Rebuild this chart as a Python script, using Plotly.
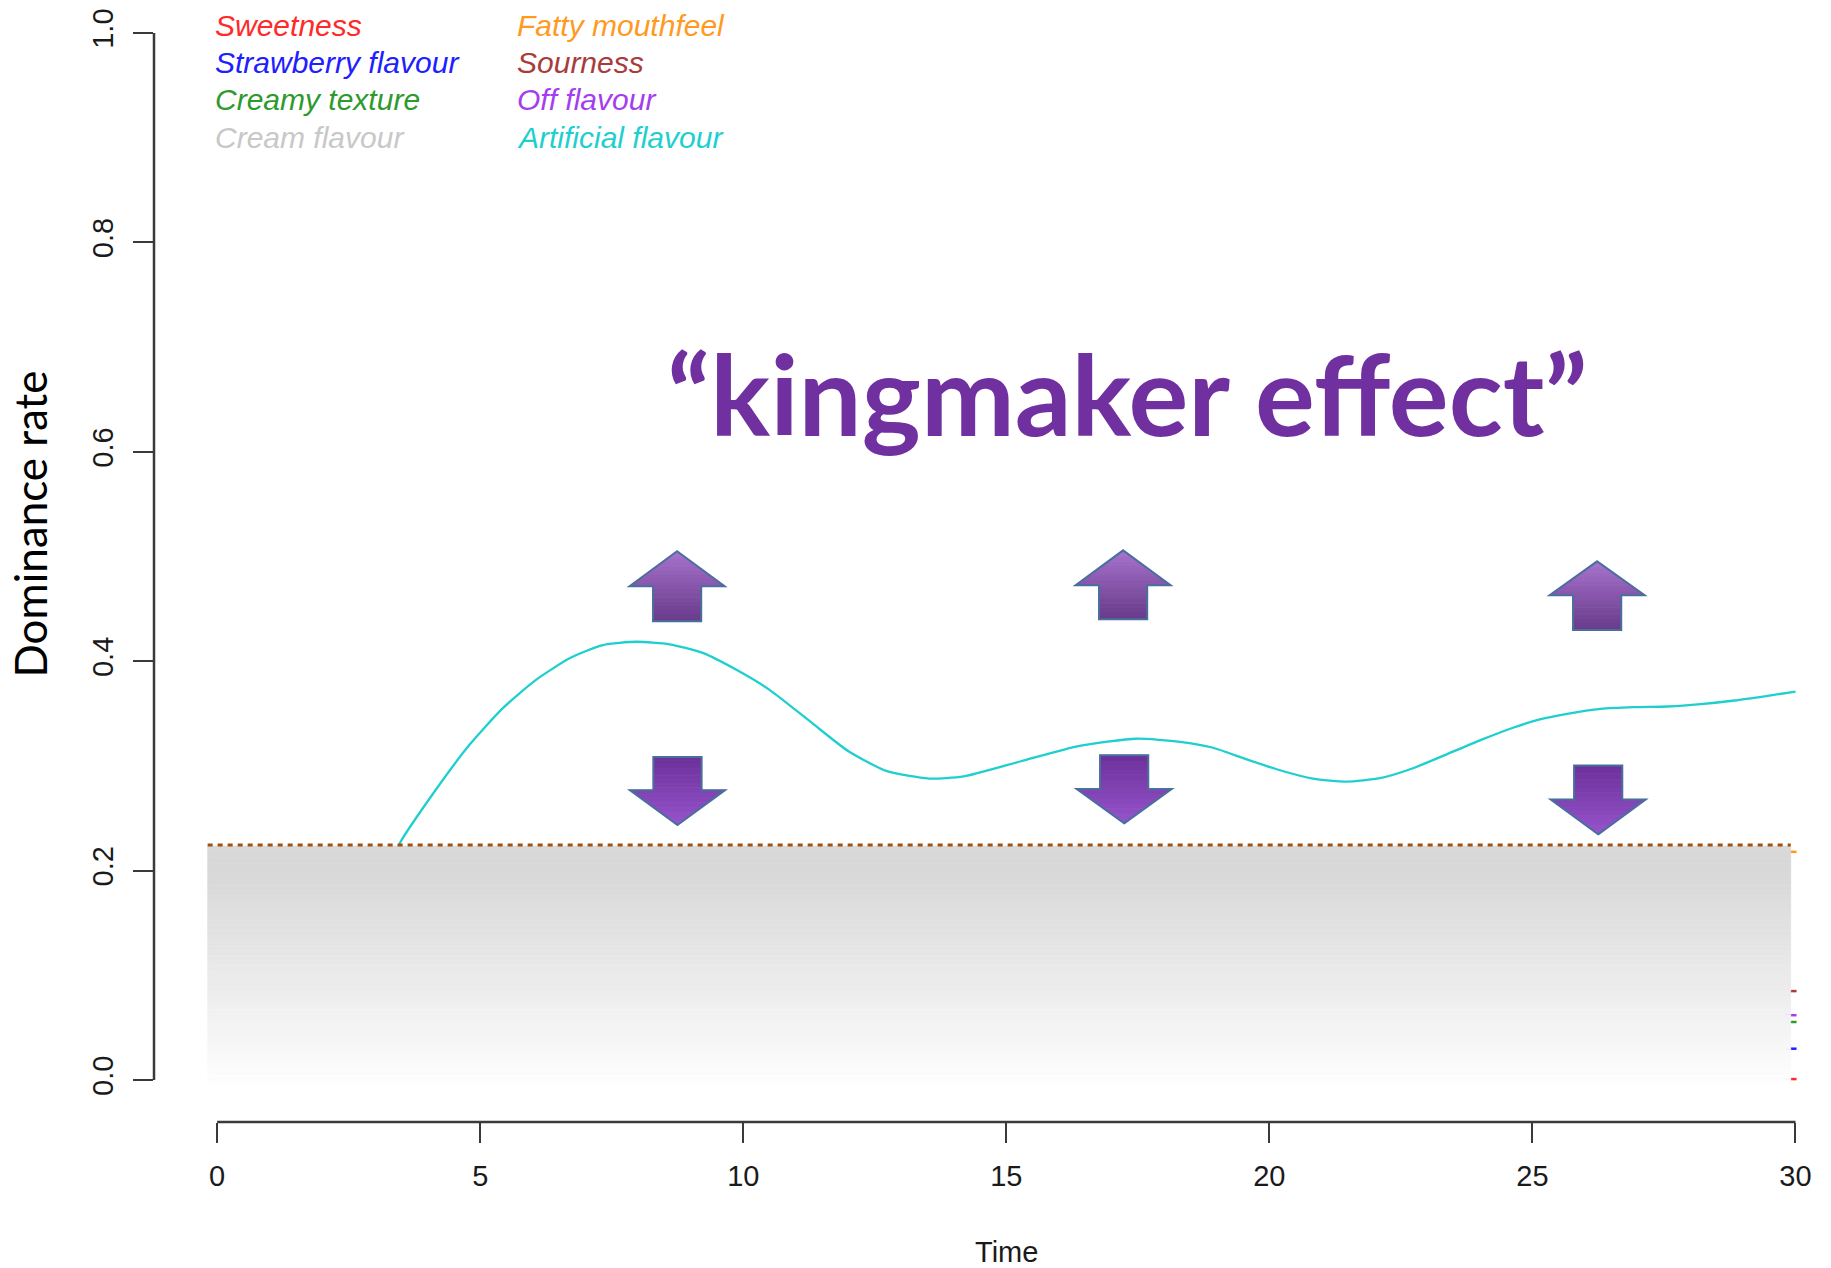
import numpy as np
import plotly.graph_objects as go

# ---------------- data ----------------
series_names = ["Sweetness", "Strawberry flavour", "Creamy texture", "Cream flavour",
                "Fatty mouthfeel", "Sourness", "Off flavour", "Artificial flavour"]
series_colors = ["#FF2A2A", "#2020FF", "#2E9A2E", "#C8C8C8",
                 "#FF9A1F", "#A83C3C", "#A63CF0", "#1FCFCF"]

# Artificial flavour dominance curve (visible part above the significance band)
time_artificial = [3.30, 3.46, 4.16, 4.80, 5.43, 6.06, 6.70, 7.33, 7.97, 8.60, 9.24, 9.87,
                   10.50, 11.27, 12.00, 12.73, 13.53, 14.19, 15.28, 16.37, 17.47, 18.30,
                   18.93, 19.57, 20.20, 20.83, 21.47, 22.10, 22.73, 23.37, 24.00, 24.63,
                   25.14, 25.66, 26.30, 26.93, 27.57, 28.20, 28.84, 29.47, 30.00]
rate_artificial = [0.205, 0.2252, 0.2775, 0.3204, 0.3552, 0.3822, 0.4028, 0.4155, 0.4186,
                   0.4162, 0.4077, 0.3918, 0.3727, 0.3425, 0.314, 0.295, 0.288, 0.290,
                   0.3045, 0.319, 0.326, 0.3231, 0.3174, 0.3063, 0.2959, 0.2879, 0.2851,
                   0.2883, 0.2978, 0.3111, 0.3244, 0.3365, 0.3444, 0.3498, 0.3546, 0.3562,
                   0.3568, 0.359, 0.3625, 0.367, 0.371]

# Other attributes: only their final values peek out at the right edge
tail_time = [29.8, 30.02]
tail_rate = {"Sweetness": 0.001, "Strawberry flavour": 0.030, "Creamy texture": 0.0555,
             "Fatty mouthfeel": 0.218, "Sourness": 0.085, "Off flavour": 0.062}

significance_level = 0.2245

x_ticks = [0, 5, 10, 15, 20, 25, 30]
x_tick_labels = ["0", "5", "10", "15", "20", "25", "30"]
y_ticks = [0.0, 0.2, 0.4, 0.6, 0.8, 1.0]
y_tick_labels = ["0.0", "0.2", "0.4", "0.6", "0.8", "1.0"]

# ---------------- layout geometry ----------------
# the page body has an 8px margin, so the figure is offset by 8px on screen
OFF = 8
W, H = 1831 - OFF, 1268 - OFF
ML, MR, MT = 154 - OFF, 0, 0
MB = H - (1122 - OFF)
X_RANGE = [-1.2, 30.675]
Y_RANGE = [-0.04, (1080 - OFF) / 1050]


def pxx(px):  # screen pixel -> paper x
    return (px - OFF - ML) / (W - ML - MR)


def pxy(py):  # screen pixel -> paper y
    return 1 - (py - OFF - MT) / (H - MT - MB)


fig = go.Figure()

# tails of the other curves
for name, col in zip(series_names, series_colors):
    if name in tail_rate:
        fig.add_trace(go.Scatter(x=tail_time, y=[tail_rate[name]] * len(tail_time),
                                 mode="lines", line=dict(color=col, width=2.5),
                                 hoverinfo="skip", showlegend=False))

fig.add_trace(go.Scatter(x=time_artificial, y=rate_artificial, mode="lines",
                         line=dict(color="#1FCFCF", width=2.3, shape="spline", smoothing=0.6),
                         showlegend=False, name="Artificial flavour"))

shapes = []

# gradient grey band under the significance line
band_x0, band_x1 = -0.18, 29.91
band_top, band_bottom = significance_level - 0.001, -0.004
n_strips = 48
for i in range(n_strips):
    f0 = i / n_strips
    f1 = (i + 1) / n_strips
    fm = (f0 + f1) / 2
    g = min(max((fm - 0.15) / 0.85, 0.0), 1.0)
    lvl = int(round(217 + (254 - 217) * g))
    col = f"rgb({lvl},{lvl},{lvl})"
    y0 = band_top - f0 * (band_top - band_bottom)
    y1 = band_top - f1 * (band_top - band_bottom)
    shapes.append(dict(type="rect", xref="x", yref="y", x0=band_x0, x1=band_x1,
                       y0=y1, y1=y0, fillcolor=col, line=dict(width=0.6, color=col),
                       layer="above"))

# significance line
shapes.append(dict(type="line", xref="x", yref="y", x0=band_x0, x1=band_x1,
                   y0=significance_level, y1=significance_level,
                   line=dict(color="#A0500F", width=2.8, dash="5px,5px"), layer="above"))

# axis lines (R style, only over data range)
ax_col = "#3a3a3a"
shapes.append(dict(type="line", xref="paper", yref="paper",
                   x0=(x_ticks[0] - X_RANGE[0]) / (X_RANGE[1] - X_RANGE[0]),
                   x1=(x_ticks[-1] - X_RANGE[0]) / (X_RANGE[1] - X_RANGE[0]),
                   y0=0, y1=0, line=dict(color=ax_col, width=2.5), layer="above"))
shapes.append(dict(type="line", xref="paper", yref="paper", x0=0, x1=0,
                   y0=(y_ticks[0] - Y_RANGE[0]) / (Y_RANGE[1] - Y_RANGE[0]),
                   y1=(y_ticks[-1] - Y_RANGE[0]) / (Y_RANGE[1] - Y_RANGE[0]),
                   line=dict(color=ax_col, width=2.5), layer="above"))

# decorative block arrows (gradient filled)
HW_HEAD, HW_SHAFT = 0.903, 0.458
arrows = [
    # cx, tip, shoulder, end, tip colour, end colour
    (8.743, 0.505, 0.4717, 0.4383, (167, 115, 205), (104, 58, 138)),
    (8.75, 0.2436, 0.2769, 0.3086, (150, 84, 204), (108, 48, 154)),
    (17.22, 0.5059, 0.4726, 0.4402, (167, 115, 205), (104, 58, 138)),
    (17.24, 0.2452, 0.278, 0.3102, (150, 84, 204), (108, 48, 154)),
    (26.23, 0.4954, 0.4631, 0.4298, (167, 115, 205), (104, 58, 138)),
    (26.25, 0.2347, 0.268, 0.3004, (150, 84, 204), (108, 48, 154)),
]


def hw_at(y, tip, sh):
    t = (y - tip) / (sh - tip)
    return HW_HEAD * t


for cx, tip, sh, end, ctip, cend in arrows:
    n = 18
    bounds = list(np.linspace(tip, end, n + 1)) + [sh]
    sgn = 1 if end > tip else -1
    bounds = sorted(set([round(b, 6) for b in bounds]), key=lambda v: sgn * v)
    for a, b in zip(bounds[:-1], bounds[1:]):
        fm = ((a + b) / 2 - tip) / (end - tip)
        c = tuple(int(round(ctip[k] + (cend[k] - ctip[k]) * fm)) for k in range(3))
        col = f"rgb({c[0]},{c[1]},{c[2]})"
        in_head = sgn * (b - sh) <= 1e-9
        if in_head:
            ha, hb = hw_at(a, tip, sh), hw_at(b, tip, sh)
        else:
            ha = hb = HW_SHAFT
        path = (f"M {cx - ha},{a} L {cx + ha},{a} L {cx + hb},{b} L {cx - hb},{b} Z")
        shapes.append(dict(type="path", xref="x", yref="y", path=path, fillcolor=col,
                           line=dict(color=col, width=0.8), layer="above"))
    outline = (f"M {cx},{tip} L {cx + HW_HEAD},{sh} L {cx + HW_SHAFT},{sh} "
               f"L {cx + HW_SHAFT},{end} L {cx - HW_SHAFT},{end} L {cx - HW_SHAFT},{sh} "
               f"L {cx - HW_HEAD},{sh} Z")
    shapes.append(dict(type="path", xref="x", yref="y", path=outline,
                       line=dict(color="#4A6E9E", width=2), layer="above"))

annotations = []

# legend (R style, italic coloured text in two columns)
leg_x = [213, 515]
leg_y = [22.5, 59.8, 97.1, 134.4]
for i, (name, col) in enumerate(zip(series_names, series_colors)):
    annotations.append(dict(text=name, xref="paper", yref="paper",
                            x=pxx(leg_x[i // 4]), y=pxy(leg_y[i % 4]),
                            xanchor="left", yanchor="middle", showarrow=False,
                            font=dict(family="Liberation Sans", size=30, color=col,
                                      style="italic")))

# headline
annotations.append(dict(text="“kingmaker effect”", xref="paper", yref="paper",
                        x=pxx(1127.5), y=pxy(391), xanchor="center", yanchor="middle",
                        showarrow=False,
                        font=dict(family="Lato", size=112, color="#7030A0", weight="bold")))

# axis titles
annotations.append(dict(text="Dominance rate", xref="paper", yref="paper",
                        x=pxx(30), y=pxy(523), xanchor="center", yanchor="middle",
                        textangle=-90, showarrow=False,
                        font=dict(family="Lato", size=44, color="#000000")))
annotations.append(dict(text="Time", xref="paper", yref="paper",
                        x=pxx(1006.5), y=pxy(1252), xanchor="center", yanchor="middle",
                        showarrow=False,
                        font=dict(family="Liberation Sans", size=29, color="#1a1a1a")))

fig.update_layout(
    width=W, height=H,
    margin=dict(l=ML, r=MR, t=MT, b=MB, pad=0),
    paper_bgcolor="white", plot_bgcolor="white",
    showlegend=False,
    shapes=shapes, annotations=annotations,
    xaxis=dict(range=X_RANGE, showgrid=False, zeroline=False, showline=False,
               tickmode="array", tickvals=x_ticks, ticktext=x_tick_labels,
               ticks="outside", ticklen=20, tickwidth=1.6, tickcolor=ax_col,
               tickfont=dict(family="Liberation Sans", size=29, color="#1a1a1a"),
               ticklabelstandoff=8, ticklabeloverflow="allow"),
    yaxis=dict(range=Y_RANGE, showgrid=False, zeroline=False, showline=False,
               tickmode="array", tickvals=y_ticks, ticktext=y_tick_labels,
               ticks="outside", ticklen=20, tickwidth=1.6, tickcolor=ax_col,
               tickangle=-90,
               tickfont=dict(family="Liberation Sans", size=29, color="#1a1a1a"),
               ticklabelstandoff=8, ticklabeloverflow="allow"),
)

fig.write_html("out.html")
